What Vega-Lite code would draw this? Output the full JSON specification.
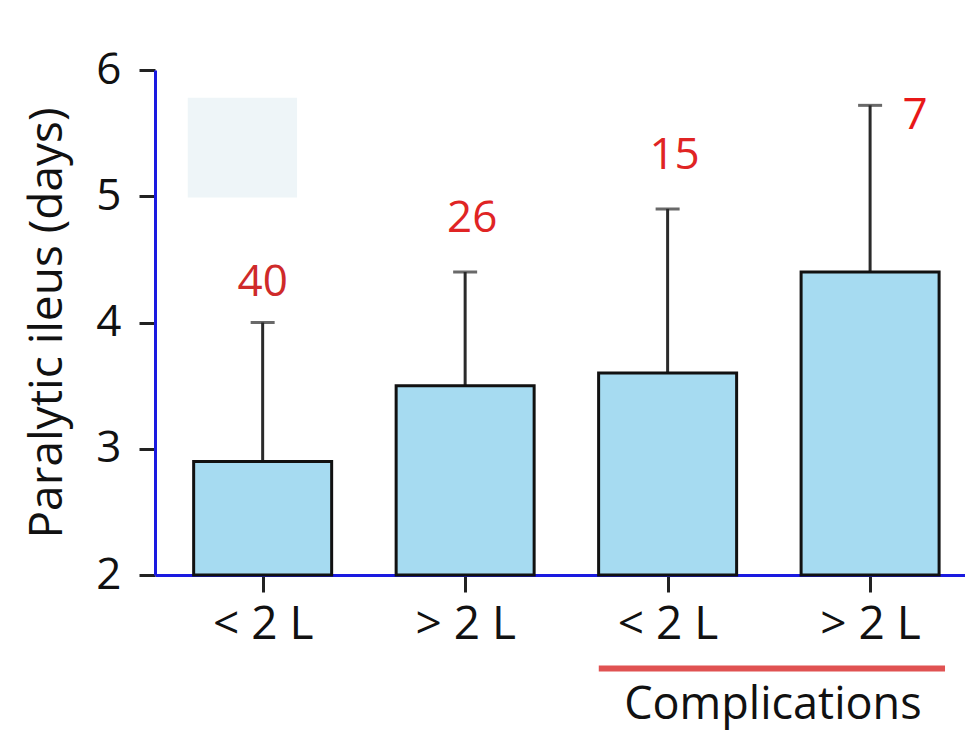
{
  "$schema": "https://vega.github.io/schema/vega-lite/v6.json",
  "width": 810,
  "height": 505,
  "autosize": {"type": "none"},
  "padding": {"left": 155, "top": 70, "right": 0, "bottom": 158},
  "background": "white",
  "config": {
    "view": {"stroke": null},
    "font": "Open Sans"
  },
  "datasets": {
    "bars": [
      {"pos": 1, "group": "< 2 L", "mean": 2.9, "upper": 4.0, "n": "40"},
      {"pos": 2, "group": "> 2 L", "mean": 3.5, "upper": 4.4, "n": "26"},
      {"pos": 3, "group": "< 2 L", "mean": 3.6, "upper": 4.9, "n": "15"},
      {"pos": 4, "group": "> 2 L", "mean": 4.4, "upper": 5.72, "n": "7"}
    ],
    "legendbox": [{"x1": 0.63, "x2": 1.17, "y1": 5.78, "y2": 4.99}],
    "bracket": [{"x1": 2.66, "x2": 4.37, "y": 1.26, "ty": 0.97, "tx": 3.52, "label": "Complications"}]
  },
  "layer": [
    {
      "data": {"name": "legendbox"},
      "mark": {"type": "rect", "color": "#eef5f8"},
      "encoding": {
        "x": {"field": "x1", "type": "quantitative", "scale": {"domain": [0.493, 4.444], "nice": false, "zero": false}, "axis": {
          "values": [1, 2, 3, 4],
          "labelExpr": "datum.value == 1 || datum.value == 3 ? '< 2 L' : '> 2 L'",
          "title": null,
          "domainColor": "#1a1ae0",
          "domainWidth": 3,
          "tickColor": "#222222",
          "tickWidth": 3,
          "tickSize": 17,
          "labelFontSize": 46,
          "labelColor": "#111111",
          "labelPadding": 10,
          "grid": false,
          "labelFont": "Open Sans"
        }},
        "x2": {"field": "x2"},
        "y": {"field": "y1", "type": "quantitative", "scale": {"domain": [2, 6], "nice": false, "zero": false}, "axis": {
          "values": [2, 3, 4, 5, 6],
          "format": "d",
          "title": "Paralytic ileus (days)",
          "titleFontSize": 46,
          "titleFontWeight": "normal",
          "titleColor": "#111111",
          "titlePadding": 24,
          "domainColor": "#1a1ae0",
          "domainWidth": 3,
          "tickColor": "#222222",
          "tickWidth": 3,
          "tickSize": 16,
          "labelFontSize": 44,
          "labelColor": "#111111",
          "labelPadding": 18,
          "grid": false,
          "labelFont": "Open Sans",
          "titleFont": "Open Sans"
        }},
        "y2": {"field": "y2"}
      }
    },
    {
      "mark": {"type": "rule", "color": "#1a1ae0", "strokeWidth": 3},
      "encoding": {"y": {"datum": 6, "type": "quantitative"}}
    },
    {
      "data": {"name": "bars"},
      "mark": {"type": "rule", "color": "#2a2a2a", "strokeWidth": 3},
      "encoding": {
        "x": {"field": "pos", "type": "quantitative"},
        "y": {"field": "mean", "type": "quantitative"},
        "y2": {"field": "upper"}
      }
    },
    {
      "data": {"name": "bars"},
      "mark": {"type": "tick", "orient": "horizontal", "color": "#2a2a2a", "thickness": 3, "size": 24},
      "encoding": {
        "x": {"field": "pos", "type": "quantitative"},
        "y": {"field": "upper", "type": "quantitative"}
      }
    },
    {
      "data": {"name": "bars"},
      "mark": {"type": "bar", "size": 138, "fill": "#a6dbf1", "stroke": "#111111", "strokeWidth": 3},
      "encoding": {
        "x": {"field": "pos", "type": "quantitative"},
        "y": {"field": "mean", "type": "quantitative"},
        "y2": {"datum": 2}
      }
    },
    {
      "data": {"name": "bars"},
      "transform": [{"filter": "datum.pos == 1"}],
      "mark": {"type": "text", "color": "#cf2a2a", "fontSize": 44, "baseline": "middle", "dy": -40, "font": "Open Sans"},
      "encoding": {
        "x": {"field": "pos", "type": "quantitative"},
        "y": {"field": "upper", "type": "quantitative"},
        "text": {"field": "n"}
      }
    },
    {
      "data": {"name": "bars"},
      "transform": [{"filter": "datum.pos == 2 || datum.pos == 3"}],
      "mark": {"type": "text", "color": "#e02424", "fontSize": 44, "baseline": "middle", "dy": -53, "dx": 7, "font": "Open Sans"},
      "encoding": {
        "x": {"field": "pos", "type": "quantitative"},
        "y": {"field": "upper", "type": "quantitative"},
        "text": {"field": "n"}
      }
    },
    {
      "data": {"name": "bars"},
      "transform": [{"filter": "datum.pos == 4"}],
      "mark": {"type": "text", "color": "#e81818", "fontSize": 44, "baseline": "middle", "dy": 11, "dx": 45, "font": "Open Sans"},
      "encoding": {
        "x": {"field": "pos", "type": "quantitative"},
        "y": {"field": "upper", "type": "quantitative"},
        "text": {"field": "n"}
      }
    },
    {
      "data": {"name": "bracket"},
      "mark": {"type": "rule", "color": "#e05252", "strokeWidth": 6, "clip": false},
      "encoding": {
        "x": {"field": "x1", "type": "quantitative"},
        "x2": {"field": "x2"},
        "y": {"field": "y", "type": "quantitative"}
      }
    },
    {
      "data": {"name": "bracket"},
      "mark": {"type": "text", "color": "#111111", "fontSize": 45, "baseline": "middle", "font": "Open Sans", "clip": false},
      "encoding": {
        "x": {"field": "tx", "type": "quantitative"},
        "y": {"field": "ty", "type": "quantitative"},
        "text": {"field": "label"}
      }
    }
  ]
}
